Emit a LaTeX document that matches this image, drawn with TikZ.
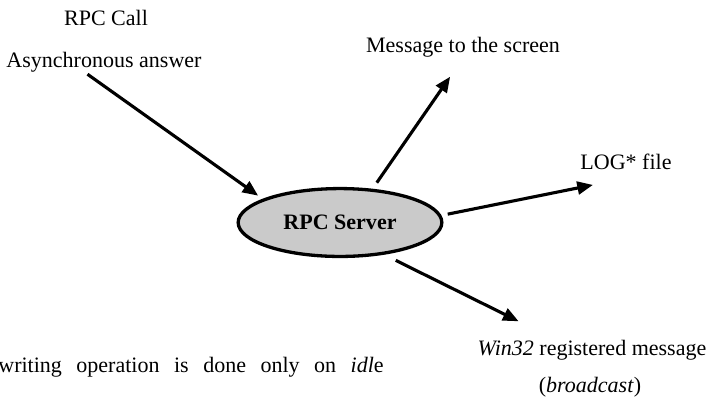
\documentclass[tikz,border=0pt]{standalone}
\usepackage{fontspec}
\setmainfont{Liberation Serif}
\usetikzlibrary{arrows.meta,shapes.geometric}
\definecolor{rsgray}{HTML}{CACACA}

\begin{document}
\begin{tikzpicture}[
  x=0.545pt, y=-0.545pt,
  server/.style = {ellipse, draw=black, line width=1.8pt, fill=rsgray,
                   minimum width=111pt, minimum height=37pt, inner sep=0pt,
                   font=\fontsize{12}{14}\selectfont\bfseries},
  flow/.style   = {-{Triangle[length=8.5pt,width=7pt]}, draw=black,
                   line width=1.7pt},
  lab/.style    = {font=\fontsize{12}{14}\selectfont, inner sep=1pt},
]
\useasboundingbox (0,0) rectangle (712,417);
% sources
\node[lab] (call)  at (106,18) {RPC Call};
\node[lab] (async) at (104,62) {Asynchronous answer};
% server
\node[server] (srv) at (340,222.5) {RPC Server};
% outputs
\node[lab] (screen) at (463,47)  {Message to the screen};
\node[lab] (log)    at (626,162) {LOG* file};
\node[lab] (win)    at (592,350) {\textit{Win32} registered message};
\node[lab] (bcast)  at (590,387) {(\textit{broadcast})};
\node[lab, anchor=west, inner sep=0pt] (note) at (-2,367)
  {\makebox[210pt][s]{writing operation is done only on \textit{idl}e}};
% arrows
\draw[flow, shorten >=3pt] ([xshift=-9pt]async.south) -- (srv.163);
\draw[flow, shorten <=4pt] (srv.46) -- ([xshift=-7pt,yshift=-9.5pt]screen.south);
\draw[flow, shorten <=3.5pt] (srv.4) -- ([xshift=8pt,yshift=-7pt]log.south west);
\draw[flow, shorten <=7pt] (srv.-36) -- ([xshift=-40pt,yshift=9pt]win.north);
\end{tikzpicture}
\end{document}
